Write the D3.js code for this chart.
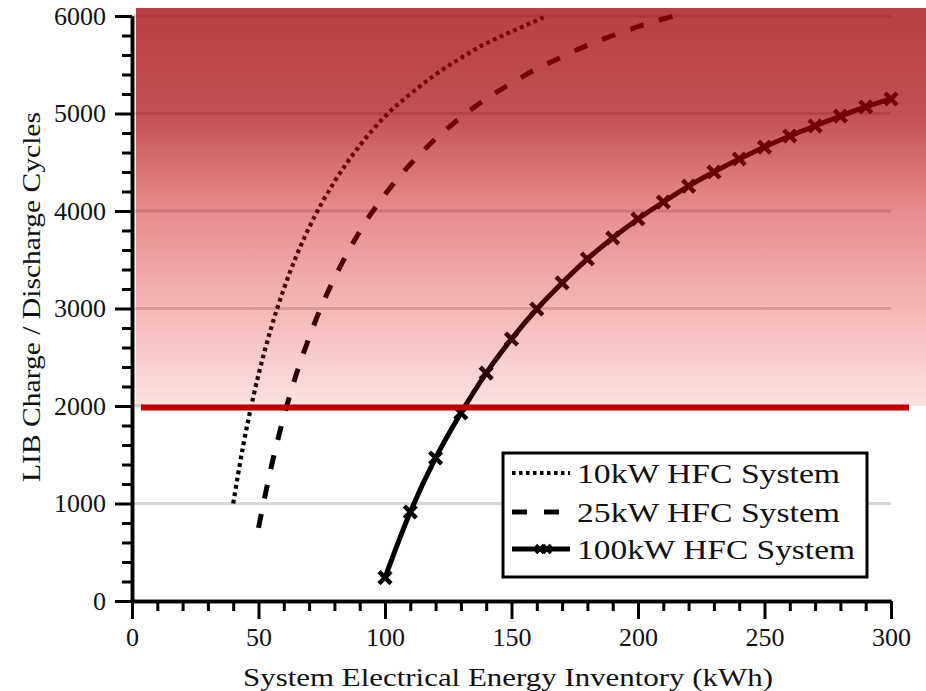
<!DOCTYPE html>
<html><head><meta charset="utf-8">
<script src="https://cdn.jsdelivr.net/npm/d3@7"></script>
<style>body{margin:0;background:#fff}svg{display:block}text{font-family:"Liberation Serif","Times New Roman",serif;fill:#111}</style>
</head><body><svg id="c" width="926" height="691"></svg>
<script>
// ---- data ----
const kwh10 = [40,42,44,46,48,50,55,60,65,70,80,90,100,110,120,130,140,150,164];
const cyc10 = [1000,1310,1600,1860,2100,2320,2800,3200,3540,3830,4300,4670,4970,5200,5400,5570,5720,5840,6000];
const kwh25 = [50,55,60,65,70,75,80,90,100,110,120,130,140,150,160,170,180,190,200,214];
const cyc25 = [750,1370,1890,2330,2700,3030,3310,3790,4170,4480,4740,4960,5150,5310,5460,5580,5700,5800,5890,6000];
const kwh100 = [100,110,120,130,140,150,160,170,180,190,200,210,220,230,240,250,260,270,280,290,300];
const cyc100 = [240,913,1467,1928,2338,2687,2995,3262,3508,3723,3918,4092,4256,4400,4533,4656,4769,4872,4974,5067,5149];
const thresholdCycles = 2000;
const xMajor = [0,50,100,150,200,250,300];
const yMajor = [0,1000,2000,3000,4000,5000,6000];
const seriesNames = ["10kW HFC System","25kW HFC System","100kW HFC System"];
const xTitle = "System Electrical Energy Inventory (kWh)";
const yTitle = "LIB Charge / Discharge Cycles";

const svg = d3.select("#c");
const x = d3.scaleLinear().domain([0,300]).range([132,891]);
const y = d3.scaleLinear().domain([0,6000]).range([601,16]);

// gradient
const defs = svg.append("defs");
const g = defs.append("linearGradient").attr("id","shade")
  .attr("gradientUnits","userSpaceOnUse").attr("x1",0).attr("x2",0).attr("y1",8).attr("y2",y(thresholdCycles));
[[0,"rgb(159,0,3)",0.75],[0.27,"rgb(169,0,5)",0.686],[0.51,"rgb(200,0,0)",0.45],
 [0.75,"rgb(220,0,0)",0.29],[1,"rgb(229,0,0)",0.114]].forEach(s=>{
  g.append("stop").attr("offset",s[0]).attr("stop-color",s[1]).attr("stop-opacity",s[2]);
});

// gridlines
svg.append("g").selectAll("line").data(yMajor.filter(d=>d>0)).join("line")
  .attr("x1",x(0)).attr("x2",x(300)).attr("y1",d=>y(d)).attr("y2",d=>y(d))
  .attr("stroke","#d6d6d6").attr("stroke-width",3);

// curves
const line = d3.line().x(d=>x(d[0])).y(d=>y(d[1])).curve(d3.curveMonotoneX);
const d10 = kwh10.map((k,i)=>[k,cyc10[i]]);
const d25 = kwh25.map((k,i)=>[k,cyc25[i]]);
const d100 = kwh100.map((k,i)=>[k,cyc100[i]]);
svg.append("path").attr("d",line(d10)).attr("fill","none").attr("stroke","#000")
  .attr("stroke-width",4.2).attr("stroke-dasharray","3.8,3.6");
svg.append("path").attr("d",line(d25)).attr("fill","none").attr("stroke","#000")
  .attr("stroke-width",5).attr("stroke-dasharray","14,16");
svg.append("path").attr("d",line(d100)).attr("fill","none").attr("stroke","#000")
  .attr("stroke-width",5);
const xm = (s)=>`M${-s},${-s}L${s},${s}M${-s},${s}L${s},${-s}`;
svg.append("g").selectAll("path").data(d100).join("path")
  .attr("transform",d=>`translate(${x(d[0])},${y(d[1])})`)
  .attr("d",xm(6)).attr("stroke","#000").attr("stroke-width",4.5).attr("fill","none");

// shaded overlay
svg.append("rect").attr("x",x(0)+4).attr("y",8).attr("width",926-(x(0)+4))
  .attr("height",y(thresholdCycles)-8).attr("fill","url(#shade)");

// threshold line
svg.append("line").attr("x1",141).attr("x2",909)
  .attr("y1",y(thresholdCycles)+1.5).attr("y2",y(thresholdCycles)+1.5)
  .attr("stroke","#c00000").attr("stroke-width",6);

// axes
function styleAxis(sel){
  sel.select(".domain").attr("stroke","#000").attr("stroke-width",3.5);
  sel.selectAll(".tick line").attr("stroke","#000").attr("stroke-width",3);
  sel.selectAll("text").attr("font-size",26).attr("font-family","Liberation Serif").attr("fill","#111");
}
const xMinor = d3.range(0,301,10).filter(v=>v%50!==0);
const yMinor = d3.range(0,6001,200).filter(v=>v%1000!==0);
svg.append("g").attr("transform",`translate(0,${y(0)})`)
  .call(d3.axisBottom(x).tickValues(xMinor).tickSize(10).tickSizeOuter(0).tickFormat(""))
  .call(styleAxis);
svg.append("g").attr("transform",`translate(0,${y(0)})`)
  .call(d3.axisBottom(x).tickValues(xMajor).tickSize(18).tickSizeOuter(0).tickPadding(9))
  .call(styleAxis);
svg.append("g").attr("transform",`translate(${x(0)},0)`)
  .call(d3.axisLeft(y).tickValues(yMinor).tickSize(10).tickSizeOuter(0).tickFormat(""))
  .call(styleAxis);
svg.append("g").attr("transform",`translate(${x(0)},0)`)
  .call(d3.axisLeft(y).tickValues(yMajor).tickSize(17).tickSizeOuter(0).tickPadding(9).tickFormat(d3.format("d")))
  .call(styleAxis);

// titles
svg.append("text").attr("x",508).attr("y",677).attr("text-anchor","middle")
  .attr("dominant-baseline","central").attr("font-size",26)
  .attr("textLength",530).attr("lengthAdjust","spacingAndGlyphs").text(xTitle);
svg.append("text").attr("transform","translate(31,297) rotate(-90)").attr("text-anchor","middle")
  .attr("dominant-baseline","central").attr("font-size",26)
  .attr("textLength",370).attr("lengthAdjust","spacingAndGlyphs").text(yTitle);

// legend
const lg = svg.append("g");
lg.append("rect").attr("x",503).attr("y",453).attr("width",364).attr("height",124)
  .attr("fill","#fff").attr("stroke","#000").attr("stroke-width",3);
const rowsY = [473,512,549];
const widths = [263,263,278];
const dash = ["3.5,3.5","15,17",null];
seriesNames.forEach((n,i)=>{
  const l = lg.append("line").attr("x1",512).attr("x2",570).attr("y1",rowsY[i]).attr("y2",rowsY[i])
    .attr("stroke","#000").attr("stroke-width",i===0?4:5);
  if(dash[i]) l.attr("stroke-dasharray",dash[i]);
  lg.append("text").attr("x",577).attr("y",rowsY[i]).attr("dominant-baseline","central")
    .attr("font-size",28).attr("textLength",widths[i]).attr("lengthAdjust","spacingAndGlyphs").text(n);
});
[540,547].forEach(cx=>{
  lg.append("path").attr("transform",`translate(${cx},${rowsY[2]})`).attr("d",xm(4))
    .attr("stroke","#000").attr("stroke-width",3.5);
});
</script></body></html>
